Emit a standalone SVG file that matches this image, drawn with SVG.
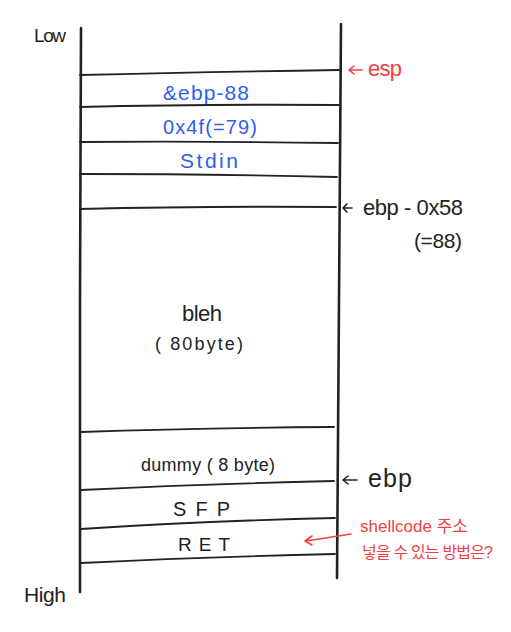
<svg xmlns="http://www.w3.org/2000/svg" width="511" height="632" viewBox="0 0 511 632">
<style>
.t{font-family:"Liberation Sans","Noto Sans CJK KR",sans-serif;fill:#222;}
.b{fill:#2f5ef0;}
.r{fill:#f2403f;}
.v{stroke:#222;stroke-width:2.6;fill:none;stroke-linecap:round;}
.h{stroke:#222;stroke-width:1.8;fill:none;stroke-linecap:round;}
.a{stroke:#222;stroke-width:1.6;fill:none;stroke-linecap:round;stroke-linejoin:round;}
.ar{stroke:#f2403f;stroke-width:1.6;fill:none;stroke-linecap:round;stroke-linejoin:round;}
</style>
<rect width="511" height="632" fill="#fff"/>
<g id="stack-frame">
<path class="v" d="M81 28 L80 300 L80 592"/>
<path class="v" d="M341 24 L339 300 L337 578"/>
</g>
<g id="connectors">
<path class="h" d="M80 75 Q200 72 339 70"/>
<path class="h" d="M80 107 Q200 104 339 105"/>
<path class="h" d="M80 142 Q200 141 338 143"/>
<path class="h" d="M80 174 Q200 174 337 177"/>
<path class="h" d="M80 209 Q200 206 336 207"/>
<path class="h" d="M81 432 Q200 428 334 427"/>
<path class="h" d="M81 490 Q200 484 334 481"/>
<path class="h" d="M81 529 Q200 521 335 518"/>
<path class="h" d="M81 563 Q200 557 335 554"/>
<path class="ar" d="M350 70 L362 70 M354 66 L349 70 L354 74"/>
<path class="a" d="M343 208 L352 208 M347 204 L343 208 L347 212"/>
<path class="a" d="M343 480 L357 480 M348 476 L343 480 L348 484"/>
<path class="ar" d="M351 534 L306 541 M312 536 L305 541 L312 545"/>
</g>
<g id="label-low"><text class="t" x="34" y="42" font-size="19" textLength="32">Low</text></g>
<g id="label-high"><text class="t" x="24" y="602" font-size="21" textLength="42">High</text></g>
<g id="node-ebp88"><text class="t b" x="163" y="100" font-size="21" textLength="86">&amp;ebp-88</text></g>
<g id="node-0x4f"><text class="t b" x="163" y="134" font-size="20" textLength="94">0x4f(=79)</text></g>
<g id="node-stdin"><text class="t b" x="180" y="168" font-size="21" textLength="58">Stdin</text></g>
<g id="node-bleh">
<text class="t" x="182" y="321" font-size="22" textLength="40">bleh</text>
<text class="t" x="155" y="350" font-size="18" textLength="88">( 80byte)</text>
</g>
<g id="node-dummy"><text class="t" x="141" y="471" font-size="18" textLength="134">dummy ( 8 byte)</text></g>
<g id="node-sfp"><text class="t" x="173" y="516" font-size="20" textLength="57">SFP</text></g>
<g id="node-ret"><text class="t" x="178" y="551" font-size="19" textLength="52">RET</text></g>
<g id="label-esp"><text class="t r" x="368" y="76" font-size="22" textLength="34">esp</text></g>
<g id="label-ebp-0x58">
<text class="t" x="363" y="215" font-size="22" textLength="100">ebp - 0x58</text>
<text class="t" x="414" y="248" font-size="21" textLength="48">(=88)</text>
</g>
<g id="label-ebp"><text class="t" x="368" y="487" font-size="25" textLength="44">ebp</text></g>
<g id="label-shellcode">
<text class="t r" x="360" y="532" font-size="17" textLength="108">shellcode 주소</text>
<text class="t r" x="362" y="558" font-size="16" textLength="131">넣을 수 있는 방법은?</text>
</g>
</svg>
